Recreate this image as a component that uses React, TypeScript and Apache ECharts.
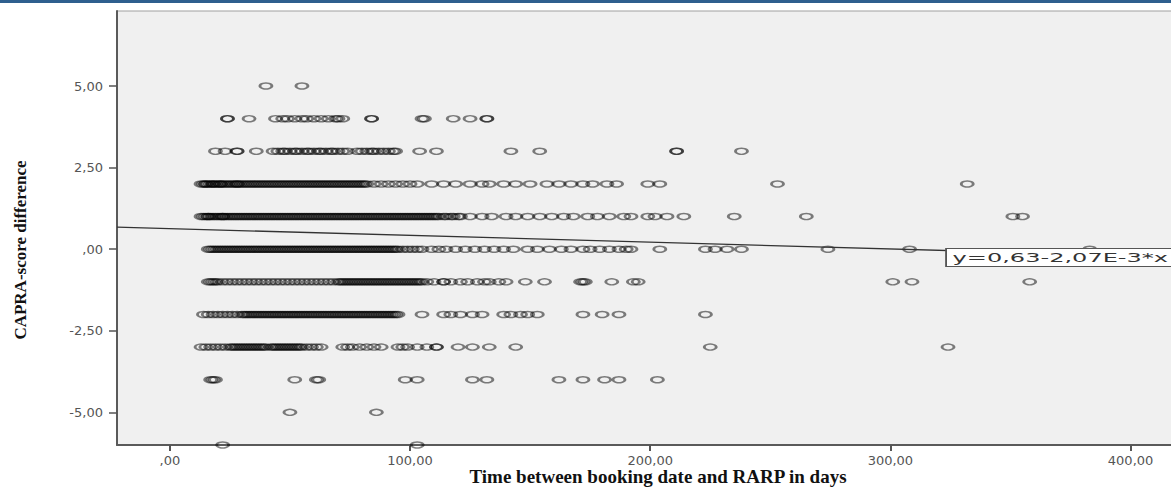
import React, { useEffect, useRef } from "react";
import * as echarts from "echarts";

// ---- Data (x = days, grouped by CAPRA-score difference level) ----
const yLevels = [5, 4, 3, 2, 1, 0, -1, -2, -3, -4, -5, -6];

const row5 = [40, 55];
const row4 = [24, 24, 33, 44, 47, 49, 52, 55, 57, 60, 63, 66, 69, 70, 72, 84, 84, 105, 106, 118, 125, 132, 132];
const row3 = [19, 23, 28, 28, 36, 43, 45, 47, 48, 50, 52, 53, 55, 57, 58, 60, 62, 63, 65, 67, 68, 70, 72, 74, 78, 80, 82, 84, 85, 87, 89, 91, 93, 94, 104, 111, 142, 154, 211, 211, 238];
const row2 = [13, 14, 15, 15, 16, 17, 18, 18, 19, 20, 21, 21, 22, 23, 24, 25, 26, 27, 28, 28, 29, 30, 31, 32, 33, 34, 35, 36, 37, 38, 39, 40, 41, 42, 43, 44, 45, 46, 47, 48, 49, 50, 51, 52, 53, 54, 55, 56, 57, 58, 59, 60, 61, 62, 63, 64, 65, 66, 67, 68, 69, 70, 71, 72, 73, 74, 75, 76, 77, 78, 79, 80, 81, 82, 85, 88, 91, 94, 97, 100, 103, 109, 114, 119, 125, 130, 133, 139, 144, 150, 157, 162, 167, 172, 176, 182, 186, 199, 204, 253, 332];
const row1 = [13, 14, 15, 16, 16, 17, 18, 19, 20, 21, 22, 22, 23, 24, 25, 26, 27, 28, 29, 30, 31, 32, 33, 34, 35, 36, 37, 38, 39, 40, 41, 42, 43, 44, 45, 46, 47, 48, 49, 50, 51, 52, 53, 54, 55, 56, 57, 58, 59, 60, 61, 62, 63, 64, 65, 66, 67, 68, 69, 70, 71, 72, 73, 74, 75, 76, 77, 78, 79, 80, 81, 82, 83, 84, 85, 86, 87, 88, 89, 90, 91, 92, 93, 94, 95, 96, 97, 98, 99, 100, 101, 102, 103, 104, 105, 106, 107, 108, 109, 110, 111, 112, 114, 115, 117, 118, 120, 121, 125, 130, 134, 140, 144, 149, 154, 159, 164, 168, 174, 178, 183, 189, 192, 199, 202, 207, 214, 235, 265, 351, 355];
const row0 = [16, 17, 18, 19, 20, 21, 22, 23, 24, 25, 26, 27, 28, 29, 30, 31, 32, 33, 34, 35, 36, 37, 38, 39, 40, 41, 42, 43, 44, 45, 46, 47, 48, 49, 50, 51, 52, 53, 54, 55, 56, 57, 58, 59, 60, 61, 62, 63, 64, 65, 66, 67, 68, 69, 70, 71, 72, 73, 74, 75, 76, 77, 78, 79, 80, 81, 82, 83, 84, 85, 86, 87, 88, 89, 90, 91, 92, 93, 94, 95, 97, 99, 101, 103, 105, 109, 112, 115, 119, 123, 127, 131, 135, 139, 143, 149, 153, 158, 163, 167, 172, 175, 179, 183, 187, 190, 192, 204, 223, 227, 232, 238, 274, 308, 383];
const rowM1 = [16, 17, 18, 19, 20, 22, 24, 26, 28, 30, 32, 34, 36, 38, 40, 42, 44, 46, 48, 50, 52, 54, 56, 58, 60, 62, 64, 66, 68, 70, 71, 72, 73, 74, 75, 76, 77, 78, 79, 80, 81, 82, 83, 84, 85, 86, 87, 88, 89, 90, 91, 92, 93, 94, 95, 96, 97, 98, 99, 100, 101, 102, 103, 104, 105, 107, 110, 114, 114, 117, 121, 124, 128, 131, 133, 137, 140, 148, 156, 171, 172, 173, 184, 193, 195, 301, 309, 358];
const rowM2 = [14, 16, 18, 20, 22, 24, 26, 28, 30, 31, 32, 33, 34, 35, 36, 37, 38, 39, 40, 41, 42, 43, 44, 45, 46, 47, 48, 49, 50, 51, 52, 53, 54, 55, 56, 57, 58, 59, 60, 61, 62, 63, 64, 65, 66, 67, 68, 69, 70, 71, 72, 73, 74, 75, 76, 77, 78, 79, 80, 81, 82, 83, 84, 85, 86, 87, 88, 89, 90, 91, 92, 93, 94, 95, 105, 114, 117, 121, 126, 130, 139, 142, 146, 149, 153, 172, 180, 187, 223];
const rowM3 = [13, 15, 17, 19, 21, 23, 25, 26, 27, 28, 29, 30, 31, 32, 33, 34, 35, 36, 37, 38, 39, 40, 42, 43, 44, 45, 46, 47, 48, 49, 50, 51, 52, 53, 54, 55, 57, 59, 61, 63, 72, 74, 76, 79, 82, 85, 88, 95, 97, 99, 103, 107, 111, 111, 120, 126, 133, 144, 225, 324];
const rowM4 = [17, 18, 19, 52, 61, 62, 98, 103, 126, 132, 162, 172, 181, 187, 203];
const rowM5 = [50, 86];
const rowM6 = [22, 103];

const rows = [row5, row4, row3, row2, row1, row0, rowM1, rowM2, rowM3, rowM4, rowM5, rowM6];

// Fitted line shown in the chart: y = 0,63 - 2,07E-3 * x
const fitIntercept = 0.63;
const fitSlope = -0.00207;
const fitLabel = "y=0,63-2,07E-3*x";

const xTickValues = [0, 100, 200, 300, 400];
const xTickLabels = [",00", "100,00", "200,00", "300,00", "400,00"];
const yTickValues = [-5, -2.5, 0, 2.5, 5];
const yTickLabels = ["-5,00", "-2,50", ",00", "2,50", "5,00"];

const xMin = -22;
const xMax = 421;
const yMin = -6;
const yMax = 7.3;

export default function App() {
  const ref = useRef<HTMLDivElement>(null);

  useEffect(() => {
    if (!ref.current) return;
    const chart = echarts.init(ref.current, null, { renderer: "svg" });

    const points: number[][] = [];
    rows.forEach((xs, i) => {
      xs.forEach((x) => points.push([x, yLevels[i]]));
    });

    const fitData = [
      [xMin, fitIntercept + fitSlope * xMin],
      [xMax, fitIntercept + fitSlope * xMax],
    ];

    const tickFont = {
      color: "#555",
      fontFamily: "DejaVu Sans",
      fontSize: 13,
    };

    chart.setOption({
      animation: false,
      backgroundColor: "#ffffff",
      grid: {
        left: 117,
        top: 11,
        width: 1064,
        height: 434,
        outerBoundsMode: "none",
        containLabel: false,
        show: true,
        backgroundColor: "#f0f0f0",
        borderColor: "#a0a0a0",
        borderWidth: 1,
      },
      xAxis: {
        type: "value",
        min: xMin,
        max: xMax,
        name: "Time between booking date and RARP in days",
        nameLocation: "middle",
        nameGap: 22,
        nameMoveOverlap: false,
        nameTextStyle: {
          fontFamily: "Liberation Serif",
          fontWeight: "bold",
          fontSize: 19,
          lineHeight: 19,
          color: "#111",
          padding: [0, 0, 0, 18],
        },
        axisLine: { show: true, onZero: false, lineStyle: { color: "#5a5a5a", width: 2 } },
        axisTick: {
          show: true,
          length: 6,
          customValues: xTickValues,
          lineStyle: { color: "#555", width: 2 },
        },
        axisLabel: {
          ...tickFont,
          margin: 9,
          customValues: xTickValues,
          formatter: (v: number) => {
            const i = xTickValues.indexOf(v);
            return i >= 0 ? xTickLabels[i] : "";
          },
        },
        splitLine: { show: false },
      },
      yAxis: {
        type: "value",
        min: yMin,
        max: yMax,
        name: "CAPRA-score difference",
        nameLocation: "middle",
        nameGap: 88,
        nameMoveOverlap: false,
        nameTextStyle: {
          fontFamily: "Liberation Serif",
          fontWeight: "bold",
          fontSize: 17,
          color: "#111",
          padding: [0, 44, 0, 0],
        },
        axisLine: { show: true, onZero: false, lineStyle: { color: "#5a5a5a", width: 2 } },
        axisTick: {
          show: true,
          length: 8,
          customValues: yTickValues,
          lineStyle: { color: "#555", width: 1.5 },
        },
        axisLabel: {
          ...tickFont,
          margin: 14,
          customValues: yTickValues,
          formatter: (v: number) => {
            const i = yTickValues.indexOf(v);
            return i >= 0 ? yTickLabels[i] : "";
          },
        },
        splitLine: { show: false },
      },
      series: [
        {
          type: "scatter",
          data: points,
          symbol: "circle",
          symbolSize: [12, 6],
          clip: true,
          itemStyle: {
            color: "rgba(0,0,0,0)",
            borderColor: "rgba(0,0,0,0.62)",
            borderWidth: 2,
          },
          z: 2,
        },
        {
          type: "line",
          data: fitData,
          symbol: "none",
          clip: true,
          lineStyle: { color: "#333", width: 1.3 },
          z: 3,
        },
      ],
      graphic: [
        {
          type: "rect",
          shape: { x: 0, y: 0, width: 1171, height: 3 },
          style: { fill: "#2f5f8e" },
          z: 100,
        },
        {
          type: "text",
          x: 947,
          y: 249,
          scaleX: 1.85,
          z: 100,
          style: {
            text: fitLabel,
            fontFamily: "DejaVu Sans",
            fontSize: 13,
            fill: "#333",
            backgroundColor: "#ffffff",
            borderColor: "#555",
            borderWidth: 1,
            padding: [2, 3, 2, 3],
          },
        },
      ],
    });

    return () => chart.dispose();
  }, []);

  return (
    <div
      ref={ref}
      style={{ position: "fixed", left: 0, top: 0, width: 1171, height: 487, background: "#fff" }}
    />
  );
}
